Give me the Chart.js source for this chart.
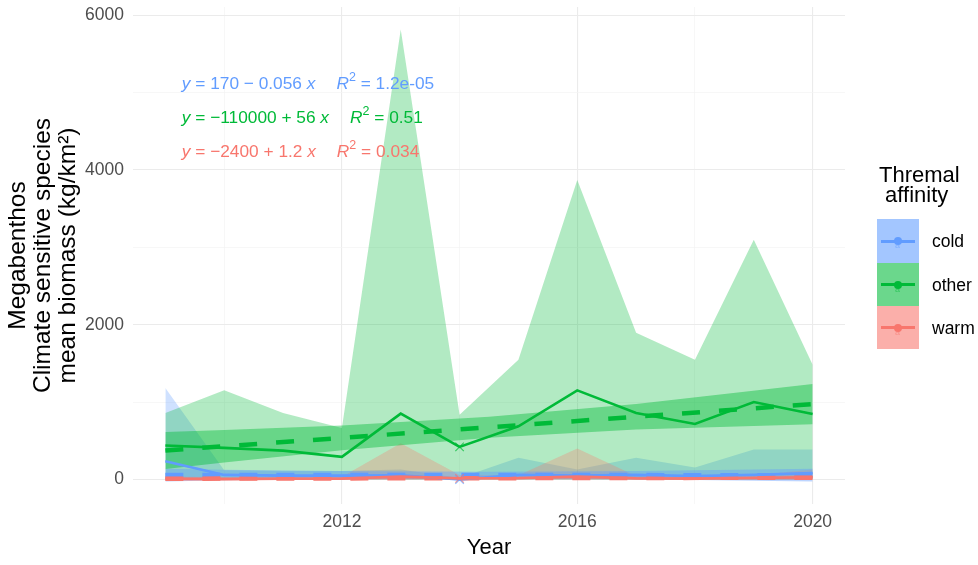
<!DOCTYPE html>
<html>
<head>
<meta charset="utf-8">
<script src="https://cdn.jsdelivr.net/npm/chart.js@4.4.1/dist/chart.umd.min.js"></script>
<style>
html,body{margin:0;padding:0;background:#fff;}
#wrap{position:relative;width:978px;height:565px;font-family:"Liberation Sans",Arial,sans-serif;overflow:hidden;}
#c{position:absolute;left:0;top:0;}
.eq{position:absolute;font-size:17.3px;white-space:pre;line-height:20px;}
.eq i{font-style:italic;}
.eq sup{font-size:12.5px;position:relative;top:-1px;vertical-align:super;line-height:0;}
.eq .gap{display:inline-block;width:21px;}
#ltitle{position:absolute;left:879px;top:165px;font-size:22px;line-height:20px;color:#000;white-space:pre;}
.key{position:absolute;left:877px;width:42px;}
.kline{position:absolute;left:4px;right:4px;height:3px;top:50%;margin-top:-1.5px;}
.kdot{position:absolute;left:50%;top:50%;width:8px;height:8px;margin:-4px 0 0 -4px;border-radius:50%;}
.ka{position:absolute;left:50%;top:50%;margin:0 0 0 -3px;font-size:9px;line-height:9px;opacity:0.55;}
.llab{position:absolute;left:932px;font-size:17.5px;line-height:20px;color:#000;}
</style>
</head>
<body>
<div id="wrap">
<canvas id="c" width="978" height="565"></canvas>
<div id="eqs"></div>
<div id="legend"></div>
</div>
<script>
// ---------- data ----------
const years = [2009, 2010, 2011, 2012, 2013, 2014, 2015, 2016, 2017, 2018, 2019, 2020];

const coldMean  = [237, 60, 50, 50, 55, 0, 60, 50, 60, 45, 60, 85];
const coldUpper = [1183, 120, 110, 110, 130, 20, 280, 130, 280, 155, 387, 387];
const coldLower = [0, 0, 0, 0, 0, 0, 0, 0, 0, 0, 0, 0];

const otherMean  = [439, 409, 374, 293, 852, 422, 688, 1152, 860, 718, 1002, 847];
const otherUpper = [860, 1152, 860, 667, 5813, 838, 1548, 3871, 1897, 1548, 3097, 1484];
const otherLower = [0, 0, 0, 0, 0, 0, 0, 0, 0, 0, 0, 0];

const warmMean  = [8, 5, 10, 12, 40, 15, 18, 40, 15, 12, 20, 30];
const warmUpper = [25, 20, 30, 35, 470, 60, 55, 400, 45, 35, 55, 130];
const warmLower = [0, 0, 0, 0, 0, 0, 0, 0, 0, 0, 0, 0];

// linear fits (dashed) and their confidence bands
const fitYears = [2009, 2020];
const coldFit  = [57.5, 56.9];
const otherFit = [375, 975];
const warmFit  = [11, 24];

const bandYears     = [2009, 2010, 2012, 2014.5, 2017, 2020];
const coldBandLow   = [-24, -10, 5, 15, 5, -24];
const coldBandHigh  = [139, 125, 110, 100, 110, 138];
const otherBandLow  = [135, 220, 379, 540, 646, 715];
const otherBandHigh = [615, 640, 699, 810, 976, 1235];
const warmBandLow   = [-14, -9, 0, 6, 5, -4];
const warmBandHigh  = [36, 33, 29, 29, 36, 52];

const markerYear = 2014;

const groups = ['cold', 'other', 'warm'];
const groupColors = ['#619CFF', '#00BA38', '#F8766D'];

const equationTexts = [
  ['170 \u2212 0.056', '1.2e-05'],
  ['\u2212110000 + 56', '0.51'],
  ['\u22122400 + 1.2', '0.034']
];
const equationX = 2009.28;
const equationY = [5123, 4684, 4245];

const xGridTicks = [2010, 2012, 2014, 2016, 2018, 2020];
const xTickLabels = [2012, 2016, 2020];
const yGridTicks = [0, 1000, 2000, 3000, 4000, 5000, 6000];
const yTickLabels = [0, 2000, 4000, 6000];

const xTitle = 'Year';
const yTitle = ['Megabenthos', 'Climate sensitive species', 'mean biomass (kg/km\u00B2)'];
const legendTitle = 'Thremal\n affinity';

// ---------- helpers ----------
function rgba(hex, a) {
  const n = parseInt(hex.slice(1), 16);
  return 'rgba(' + ((n >> 16) & 255) + ',' + ((n >> 8) & 255) + ',' + (n & 255) + ',' + a + ')';
}
function pts(xs, ys) { return xs.map((x, i) => ({x: x, y: ys[i]})); }

const means = [coldMean, otherMean, warmMean];
const uppers = [coldUpper, otherUpper, warmUpper];
const lowers = [coldLower, otherLower, warmLower];
const fits = [coldFit, otherFit, warmFit];
const bandLows = [coldBandLow, otherBandLow, warmBandLow];
const bandHighs = [coldBandHigh, otherBandHigh, warmBandHigh];

const datasets = [];
let rank = 0;
const base = {pointRadius: 0, pointHoverRadius: 0, tension: 0, borderWidth: 0, fill: false};

// SD ribbons
groups.forEach((g, i) => {
  rank++;
  datasets.push(Object.assign({}, base, {label: g + ' ribbon', data: pts(years, uppers[i]), fill: '+1',
    backgroundColor: rgba(groupColors[i], 0.3), borderColor: 'rgba(0,0,0,0)', order: 100 - rank}));
  datasets.push(Object.assign({}, base, {label: g + ' ribbon low', data: pts(years, lowers[i]),
    borderColor: 'rgba(0,0,0,0)', order: 100 - rank}));
});
// fit bands and dashed fit lines
groups.forEach((g, i) => {
  rank++;
  datasets.push(Object.assign({}, base, {label: g + ' band', data: pts(bandYears, bandHighs[i]), fill: '+1',
    backgroundColor: rgba(groupColors[i], 0.42), borderColor: 'rgba(0,0,0,0)', order: 100 - rank}));
  datasets.push(Object.assign({}, base, {label: g + ' band low', data: pts(bandYears, bandLows[i]),
    borderColor: 'rgba(0,0,0,0)', order: 100 - rank}));
  rank++;
  datasets.push(Object.assign({}, base, {label: g + ' fit', data: pts(fitYears, fits[i]),
    borderColor: groupColors[i], borderWidth: 4.5, borderDash: [18, 19], order: 100 - rank}));
});
// mean lines with markers
groups.forEach((g, i) => {
  rank++;
  datasets.push(Object.assign({}, base, {label: g, data: pts(years, means[i]),
    borderColor: groupColors[i], borderWidth: 2.6, order: 100 - rank,
    pointStyle: 'crossRot',
    pointRadius: ctx => (years[ctx.dataIndex] === markerYear ? 6 : 0),
    pointBorderColor: rgba(groupColors[i], 0.7), pointBorderWidth: 1.2,
    pointBackgroundColor: 'rgba(0,0,0,0)'}));
});

// ---------- overlays (equations + legend) ----------
const eqDiv = document.getElementById('eqs');
const eqEls = equationTexts.map((t, i) => {
  const d = document.createElement('div');
  d.className = 'eq';
  d.style.color = groupColors[i];
  d.innerHTML = '<i>y</i> = ' + t[0] + ' <i>x</i><span class="gap"></span><i>R</i><sup>2</sup> = ' + t[1];
  eqDiv.appendChild(d);
  return d;
});

const leg = document.getElementById('legend');
const lt = document.createElement('div');
lt.id = 'ltitle';
lt.textContent = legendTitle;
leg.appendChild(lt);
const keyTops = [219, 263, 306];
const keyHeights = [44, 43, 43];
groups.forEach((g, i) => {
  const k = document.createElement('div');
  k.className = 'key';
  k.style.top = keyTops[i] + 'px';
  k.style.height = keyHeights[i] + 'px';
  k.style.background = rgba(groupColors[i], 0.58);
  k.innerHTML = '<div class="kline" style="background:' + groupColors[i] + '"></div>' +
                '<div class="kdot" style="background:' + groupColors[i] + '"></div>' +
                '<div class="ka" style="color:' + groupColors[i] + '">a</div>';
  leg.appendChild(k);
  const l = document.createElement('div');
  l.className = 'llab';
  l.style.top = (keyTops[i] + keyHeights[i] / 2 - 10) + 'px';
  l.textContent = g;
  leg.appendChild(l);
});

const overlayPlugin = {
  id: 'overlay',
  afterRender(chart) {
    const xs = chart.scales.x, ys = chart.scales.y;
    eqEls.forEach((el, i) => {
      el.style.left = xs.getPixelForValue(equationX) + 'px';
      el.style.top = (ys.getPixelForValue(equationY[i]) - 10) + 'px';
    });
  }
};

const FONT = '"Liberation Sans", Arial, sans-serif';

new Chart(document.getElementById('c'), {
  type: 'line',
  data: {datasets: datasets},
  plugins: [overlayPlugin],
  options: {
    responsive: false,
    animation: false,
    devicePixelRatio: 1,
    layout: {padding: {left: 0, right: 133, top: 7, bottom: 0}},
    plugins: {legend: {display: false}, tooltip: {enabled: false}, filler: {propagate: false}},
    elements: {line: {borderCapStyle: 'butt', borderJoinStyle: 'miter'}},
    scales: {
      x: {
        type: 'linear', min: 2008.45, max: 2020.55,
        afterBuildTicks: s => { s.ticks = xGridTicks.map(v => ({value: v})); },
        afterFit: s => { s.height = 61; s.paddingLeft = 0; s.paddingRight = 0; },
        border: {display: false},
        grid: {
          drawTicks: false,
          color: c => (xTickLabels.includes(c.tick.value) ? '#ebebeb' : '#f3f3f3'),
          lineWidth: c => (xTickLabels.includes(c.tick.value) ? 1.1 : 0.7)
        },
        ticks: {
          autoSkip: false, maxRotation: 0, padding: 8, color: '#4d4d4d',
          font: {family: FONT, size: 17.5},
          callback: v => (xTickLabels.includes(v) ? String(v) : '')
        },
        title: {display: true, text: xTitle, color: '#000', font: {family: FONT, size: 22, lineHeight: '26px'}, padding: {top: 0, bottom: 4}}
      },
      y: {
        type: 'linear', min: -316, max: 6105,
        afterBuildTicks: s => { s.ticks = yGridTicks.map(v => ({value: v})); },
        afterFit: s => { s.width = 133; s.paddingTop = 0; s.paddingBottom = 0; },
        border: {display: false},
        grid: {
          drawTicks: false,
          color: c => (yTickLabels.includes(c.tick.value) ? '#ebebeb' : '#f3f3f3'),
          lineWidth: c => (yTickLabels.includes(c.tick.value) ? 1.1 : 0.7)
        },
        ticks: {
          padding: 9, color: '#4d4d4d',
          font: {family: FONT, size: 17.5},
          callback: v => (yTickLabels.includes(v) ? String(v) : '')
        },
        title: {display: true, text: yTitle, color: '#000', font: {family: FONT, size: 24.5, lineHeight: '25px'}, padding: {top: 5.5, bottom: 0}}
      }
    }
  }
});
</script>
</body>
</html>
